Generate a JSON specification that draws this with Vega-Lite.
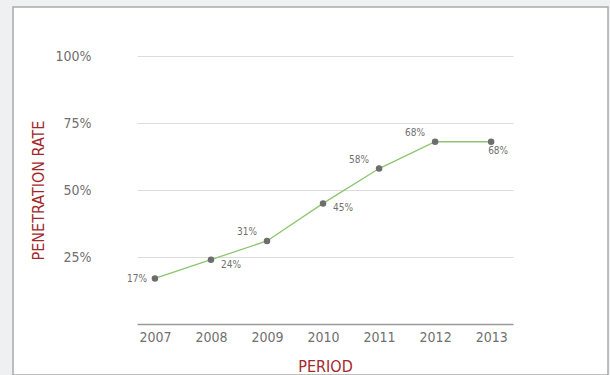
{
  "$schema": "https://vega.github.io/schema/vega-lite/v6.json",
  "autosize": {"type": "none"},
  "width": 595,
  "height": 368,
  "padding": {"left": 13, "top": 7, "right": 2, "bottom": 0},
  "background": "#eff0f2",
  "config": {
    "view": {"fill": "white", "stroke": "#a9a9a9", "strokeWidth": 1.5},
    "font": "'DejaVu Sans Condensed', 'Liberation Sans', sans-serif"
  },
  "data": {
    "values": [
      {"year": 2007, "rate": 17},
      {"year": 2008, "rate": 24},
      {"year": 2009, "rate": 31},
      {"year": 2010, "rate": 45},
      {"year": 2011, "rate": 58},
      {"year": 2012, "rate": 68},
      {"year": 2013, "rate": 68}
    ]
  },
  "transform": [{"calculate": "datum.rate + '%'", "as": "lbl"}],
  "encoding": {
    "x": {
      "field": "year",
      "type": "quantitative",
      "scale": {"domain": [2006.68, 2013.39], "range": [124, 500], "nice": false, "zero": false},
      "axis": {
        "orient": "bottom",
        "offset": -51,
        "values": [2007, 2008, 2009, 2010, 2011, 2012, 2013],
        "format": "d",
        "grid": false,
        "ticks": false,
        "domain": true,
        "domainColor": "#9a9a9a",
        "domainWidth": 1.5,
        "labelFont": "'DejaVu Sans Condensed', 'Liberation Sans', sans-serif",
        "labelFontSize": 14,
        "labelColor": "#707070",
        "labelPadding": 6,
        "title": "PERIOD",
        "titleFont": "'DejaVu Sans Condensed', 'Liberation Sans', sans-serif",
        "titleFontSize": 16,
        "titleFontWeight": "normal",
        "titleColor": "#a3282a",
        "titlePadding": 14
      }
    },
    "y": {
      "field": "rate",
      "type": "quantitative",
      "scale": {"domain": [0, 100], "range": [317, 49], "nice": false},
      "axis": {
        "orient": "left",
        "offset": -124,
        "values": [25, 50, 75, 100],
        "labelExpr": "datum.value + '%'",
        "grid": true,
        "gridColor": "#dcdcdc",
        "gridWidth": 1,
        "ticks": false,
        "domain": false,
        "labelFont": "'DejaVu Sans Condensed', 'Liberation Sans', sans-serif",
        "labelFontSize": 14,
        "labelColor": "#707070",
        "labelPadding": 46,
        "title": "PENETRATION RATE",
        "titleFont": "'DejaVu Sans Condensed', 'Liberation Sans', sans-serif",
        "titleFontSize": 16,
        "titleFontWeight": "normal",
        "titleColor": "#a3282a",
        "titlePadding": 8
      }
    }
  },
  "layer": [
    {"mark": {"type": "line", "color": "#8cc56e", "strokeWidth": 1.3}},
    {"mark": {"type": "point", "filled": true, "color": "#6d6d6d", "size": 42, "opacity": 1}},
    {
      "transform": [{"filter": "datum.year == 2007"}],
      "mark": {"type": "text", "align": "right", "baseline": "middle", "dx": -8, "dy": 1, "fontSize": 10, "color": "#6f6f6f"},
      "encoding": {"text": {"field": "lbl"}}
    },
    {
      "transform": [{"filter": "datum.year == 2008 || datum.year == 2010"}],
      "mark": {"type": "text", "align": "left", "baseline": "middle", "dx": 10, "dy": 5, "fontSize": 10, "color": "#6f6f6f"},
      "encoding": {"text": {"field": "lbl"}}
    },
    {
      "transform": [{"filter": "datum.year == 2009 || datum.year == 2011 || datum.year == 2012"}],
      "mark": {"type": "text", "align": "right", "baseline": "middle", "dx": -10, "dy": -9, "fontSize": 10, "color": "#6f6f6f"},
      "encoding": {"text": {"field": "lbl"}}
    },
    {
      "transform": [{"filter": "datum.year == 2013"}],
      "mark": {"type": "text", "align": "center", "baseline": "middle", "dx": 7, "dy": 9, "fontSize": 10, "color": "#6f6f6f"},
      "encoding": {"text": {"field": "lbl"}}
    }
  ]
}
